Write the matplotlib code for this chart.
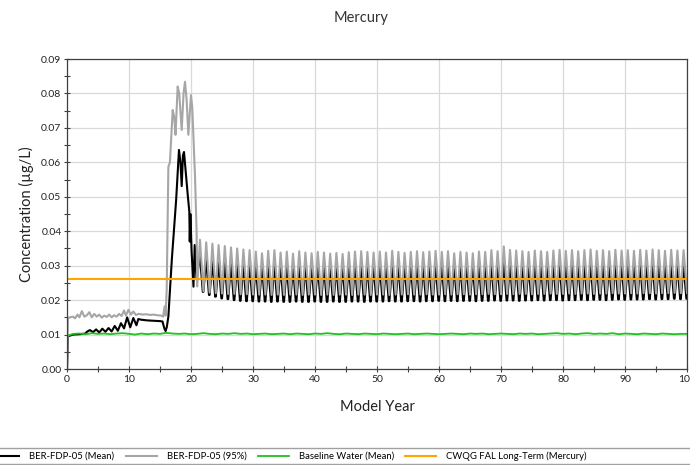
import matplotlib
matplotlib.use("Agg")
import matplotlib.pyplot as plt
from matplotlib.lines import Line2D
from matplotlib.ticker import MultipleLocator, FormatStrFormatter

plt.rcParams["font.family"] = ["Lato", "DejaVu Sans"]

# early part of the record (model year, concentration ug/L)
gray_early = [(0.0, 0.0), (0.15, 0.0148), (0.5, 0.0150), (1.0, 0.0152), (1.3, 0.0147), (1.7, 0.0158),
              (2.0, 0.0150), (2.4, 0.0168), (2.8, 0.0152), (3.2, 0.0156), (3.6, 0.0165), (4.0, 0.0150),
              (4.4, 0.0160), (4.8, 0.0152), (5.2, 0.0158), (5.6, 0.0149), (6.0, 0.0155), (6.4, 0.0151),
              (6.8, 0.0158), (7.2, 0.0150), (7.6, 0.0156), (8.0, 0.0152), (8.4, 0.0160), (8.8, 0.0154),
              (9.2, 0.0170), (9.5, 0.0155), (9.9, 0.0172), (10.3, 0.0158), (10.7, 0.0167), (11.1, 0.0157),
              (11.6, 0.0160), (12.2, 0.0158), (12.8, 0.0159), (13.4, 0.0157), (14.0, 0.0158), (14.6, 0.0156),
              (15.2, 0.0155), (15.5, 0.0152), (15.75, 0.0182), (15.9, 0.0155), (16.08, 0.0230),
              (16.35, 0.0587), (16.6, 0.0600), (17.05, 0.0752), (17.3, 0.0730), (17.5, 0.0680),
              (17.85, 0.0820), (18.1, 0.0800), (18.5, 0.0694), (18.8, 0.0800), (19.03, 0.0834),
              (19.3, 0.0780), (19.57, 0.0680), (20.0, 0.0795), (20.2, 0.0760), (20.65, 0.0558), (20.9, 0.0400)]

black_early = [(0.0, 0.0), (0.15, 0.0095), (1.0, 0.0100), (2.0, 0.0101), (3.0, 0.0103), (3.2, 0.0108),
               (3.7, 0.0113), (4.2, 0.0107), (4.7, 0.0115), (5.2, 0.0106), (5.7, 0.0117), (6.2, 0.0108),
               (6.7, 0.0119), (7.2, 0.0109), (7.7, 0.0125), (8.2, 0.0111), (8.7, 0.0133), (9.2, 0.0118),
               (9.7, 0.0150), (10.2, 0.0121), (10.7, 0.0148), (11.2, 0.0127), (11.5, 0.0145), (12.0, 0.0143),
               (13.0, 0.0141), (14.0, 0.0140), (15.0, 0.0139), (15.4, 0.0138), (15.7, 0.0118), (15.9, 0.0110),
               (16.1, 0.0122), (16.35, 0.0152), (16.9, 0.0316), (17.6, 0.0490), (18.06, 0.0636),
               (18.3, 0.0600), (18.5, 0.0531), (18.7, 0.0620), (18.87, 0.0630), (19.2, 0.0560),
               (19.5, 0.0500), (19.73, 0.0457), (19.8, 0.0370), (19.9, 0.0450), (20.1, 0.0340),
               (20.4, 0.0239), (20.6, 0.0360), (20.9, 0.0260)]

# yearly cycles from year 21 to 100 (values in 1e-4 ug/L)
cycle_years = list(range(21, 101))
gray_peak = [375, 368, 364, 360, 357, 353, 350, 347, 345, 341,
             336, 343, 345, 338, 341, 335, 342, 338, 336, 340,
             338, 335, 337, 334, 339, 341, 342, 340, 338, 341,
             338, 343, 340, 337, 340, 342, 339, 341, 343, 340,
             342, 336, 340, 338, 336, 341, 340, 345, 342, 356,
             346, 344, 342, 340, 344, 342, 340, 344, 346, 343,
             345, 342, 345, 347, 343, 345, 342, 346, 344, 345,
             343, 346, 344, 347, 345, 343, 346, 344, 345, 345]
gray_trough = [240, 226, 222, 220, 219, 218, 218, 217, 217, 216,
               216, 216, 215, 216, 215, 216, 216, 215, 216, 216,
               215, 216, 215, 216, 216, 215, 216, 216, 215, 216,
               216, 215, 216, 216, 217, 216, 216, 217, 216, 216,
               217, 216, 217, 217, 216, 217, 217, 218, 217, 217,
               218, 217, 218, 218, 217, 218, 218, 219, 218, 218,
               219, 218, 219, 219, 218, 219, 219, 220, 219, 219,
               220, 219, 220, 220, 219, 220, 220, 221, 220, 220]
black_peak = [330, 318, 312, 310, 308, 306, 305, 303, 302, 300,
              298, 302, 303, 299, 300, 297, 301, 299, 298, 300,
              299, 297, 298, 296, 299, 300, 301, 300, 299, 300,
              299, 302, 300, 298, 300, 301, 299, 300, 302, 300,
              301, 298, 300, 299, 298, 300, 300, 303, 301, 310,
              304, 302, 301, 300, 302, 301, 300, 302, 304, 302,
              303, 301, 303, 305, 302, 303, 301, 304, 303, 303,
              302, 304, 303, 305, 303, 302, 304, 303, 303, 303]
black_trough = [224, 215, 210, 205, 203, 200, 198, 197, 197, 196,
                196, 195, 196, 195, 195, 196, 195, 195, 196, 195,
                195, 196, 195, 195, 196, 196, 195, 196, 196, 196,
                197, 196, 196, 197, 197, 196, 197, 197, 198, 197,
                198, 197, 198, 198, 197, 198, 198, 199, 198, 199,
                199, 198, 199, 199, 200, 199, 200, 200, 199, 200,
                200, 201, 200, 201, 201, 200, 201, 202, 201, 202,
                202, 202, 203, 202, 203, 203, 204, 203, 204, 205]

# baseline water, one value per model year 0..100
green_years = list(range(0, 101))
green_vals = [0.0096, 0.0102, 0.0103, 0.0101, 0.0104, 0.0102, 0.0103, 0.0101, 0.0103, 0.0104,
              0.0102, 0.0100, 0.0103, 0.0101, 0.0103, 0.0102, 0.0105, 0.0103, 0.0102, 0.0103,
              0.0101, 0.0102, 0.0104, 0.0102, 0.0101, 0.0103, 0.0102, 0.0104, 0.0102, 0.0103,
              0.0101, 0.0102, 0.0103, 0.0101, 0.0102, 0.0103, 0.0101, 0.0103, 0.0102, 0.0101,
              0.0103, 0.0102, 0.0104, 0.0102, 0.0101, 0.0103, 0.0102, 0.0101, 0.0103, 0.0102,
              0.0101, 0.0103, 0.0102, 0.0101, 0.0102, 0.0103, 0.0101, 0.0102, 0.0103, 0.0102,
              0.0101, 0.0102, 0.0103, 0.0102, 0.0101, 0.0103, 0.0102, 0.0103, 0.0101, 0.0102,
              0.0103, 0.0102, 0.0101, 0.0103, 0.0102, 0.0103, 0.0101, 0.0102, 0.0103, 0.0104,
              0.0102, 0.0103, 0.0101, 0.0103, 0.0104, 0.0102, 0.0103, 0.0102, 0.0104, 0.0101,
              0.0103, 0.0102, 0.0101, 0.0103, 0.0102, 0.0101, 0.0103, 0.0102, 0.0101, 0.0102,
              0.0102]

guideline = 0.026

labels = ["BER-FDP-05 (Mean)", "BER-FDP-05 (95%)", "Baseline Water (Mean)",
          "CWQG FAL Long-Term (Mercury)"]

# build the full series
gx = [p[0] for p in gray_early]
gy = [p[1] for p in gray_early]
bx = [p[0] for p in black_early]
by = [p[1] for p in black_early]
for i, n in enumerate(cycle_years):
    gx += [n, n + 0.45]
    gy += [gray_trough[i] / 1e4, gray_peak[i] / 1e4]
    bx += [n + 0.45, n + 0.9, n + 1.0]
    by += [black_peak[i] / 1e4, black_trough[i] / 1e4, black_trough[i] / 1e4]

fig = plt.figure(figsize=(6.9, 4.65), dpi=100)
ax = fig.add_axes([67 / 690, 96 / 465, 620 / 690, 310 / 465])

ax.plot(bx, by, color="black", lw=1.5, label=labels[0])
ax.plot(gx, gy, color="#a6a6a6", lw=1.5, label=labels[1])
ax.plot(green_years, green_vals, color="#1ec31e", lw=1.3, label=labels[2])
ax.plot([0, 100], [guideline, guideline], color="#ffa500", lw=1.5, label=labels[3])

ax.set_xlim(0, 100)
ax.set_ylim(0, 0.09)
ax.xaxis.set_major_locator(MultipleLocator(10))
ax.xaxis.set_minor_locator(MultipleLocator(5))
ax.yaxis.set_major_locator(MultipleLocator(0.01))
ax.yaxis.set_minor_locator(MultipleLocator(0.005))
ax.yaxis.set_major_formatter(FormatStrFormatter("%.2f"))
ax.grid(True, which="major", color="#d9d9d9", lw=0.9)
ax.set_axisbelow(True)
ax.tick_params(which="both", direction="inout", length=4, width=0.8, color="#404040",
               labelsize=7.5, labelcolor="#222222", pad=2)
for s in ax.spines.values():
    s.set_color("#404040")
    s.set_linewidth(0.9)

ax.set_xlabel("Model Year", fontsize=10.5, color="#222222", labelpad=12)
ax.set_ylabel("Concentration (µg/L)", fontsize=10.5, color="#222222", labelpad=5)
fig.text(361 / 690, 1 - 18 / 465, "Mercury", ha="center", va="center", fontsize=10.5, color="#333333")

leg = fig.legend(loc="upper left", bbox_to_anchor=(-15 / 690, 1 - 448 / 465), ncol=4,
                 fontsize=6.8, frameon=False, borderaxespad=0,
                 handlelength=3.3, handletextpad=1.06, columnspacing=1.17, borderpad=0.35)

# legend box runs past both figure edges, so only its top and bottom rules show
for ypx in (448, 464):
    fig.add_artist(Line2D([0, 1], [1 - ypx / 465] * 2, transform=fig.transFigure,
                          color="#a0a0a0", lw=1.0))

fig.savefig("out.png", dpi=100)
